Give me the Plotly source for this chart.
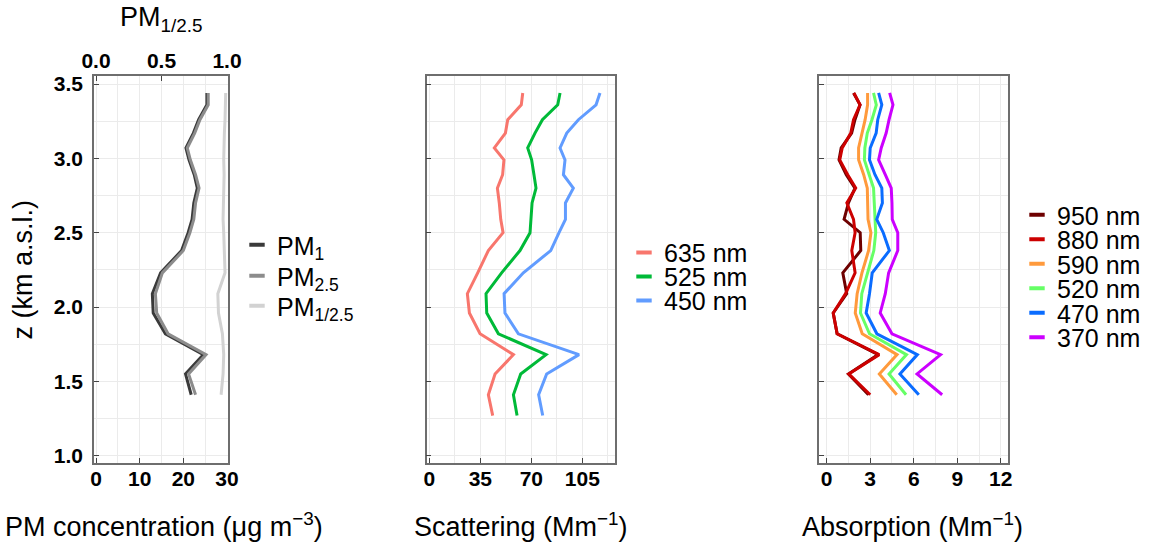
import plotly.graph_objects as go

W, H = 1151, 546

# ---------------- data ----------------
z_pm = [3.44, 3.36, 3.26, 3.17, 3.07, 2.99, 2.89, 2.80, 2.70, 2.59,
        2.50, 2.38, 2.23, 2.09, 1.96, 1.82, 1.68, 1.55, 1.41]
pm1 = [25.4, 25.4, 23.5, 22.3, 20.6, 21.3, 22.5, 23.2, 22.4, 22.0,
       21.1, 19.6, 14.8, 12.9, 13.1, 15.9, 24.6, 20.5, 21.8]
pm25 = [25.7, 25.7, 23.8, 22.6, 20.9, 21.6, 22.8, 23.6, 22.8, 22.4,
        21.5, 20.0, 15.2, 13.6, 13.9, 16.5, 25.2, 21.2, 22.8]
pm_ratio = [0.99, 0.99, 0.985, 0.98, 0.975, 0.975, 0.978, 0.975, 0.972, 0.97,
            0.975, 0.98, 0.985, 0.93, 0.935, 0.965, 0.975, 0.97, 0.955]

z_scat = [3.44, 3.36, 3.26, 3.17, 3.07, 2.99, 2.89, 2.80, 2.70, 2.59,
          2.50, 2.38, 2.23, 2.09, 1.96, 1.82, 1.68, 1.55, 1.41, 1.27]
scat_635 = [64.1, 63.1, 53.8, 52.2, 44.6, 51.2, 50.3, 46.7, 48.0, 49.0,
            50.6, 40.5, 33.2, 26.1, 27.5, 34.8, 57.7, 45.1, 40.5, 43.5]
scat_525 = [89.7, 88.1, 77.6, 72.5, 67.5, 70.2, 71.8, 73.2, 70.5, 69.8,
            69.1, 62.2, 49.6, 38.9, 39.4, 47.4, 80.1, 62.7, 57.7, 60.2]
scat_450 = [117.1, 114.4, 102.3, 94.3, 89.7, 93.1, 92.0, 98.8, 93.4, 93.4,
            89.0, 83.3, 64.5, 51.3, 51.9, 61.1, 102.7, 80.5, 75.0, 77.8]

z_abs = [3.44, 3.36, 3.26, 3.17, 3.07, 2.99, 2.89, 2.80, 2.70, 2.59,
         2.50, 2.38, 2.23, 2.09, 1.96, 1.82, 1.68, 1.55, 1.41]
abs_950 = [1.85, 2.30, 1.95, 1.72, 1.00, 0.85, 1.35, 1.95, 1.50, 1.20,
           2.31, 2.35, 1.11, 1.38, 0.45, 0.72, 3.55, 1.50, 2.88]
abs_880 = [1.88, 2.30, 1.85, 1.66, 1.07, 0.90, 1.45, 2.00, 1.39, 1.85,
           1.96, 1.73, 1.96, 1.30, 0.45, 0.72, 3.62, 1.52, 3.00]
abs_590 = [2.82, 2.82, 2.65, 2.43, 2.20, 2.20, 2.55, 2.80, 2.82, 2.85,
           3.05, 2.89, 2.43, 2.10, 1.97, 2.45, 4.85, 3.63, 4.83]
abs_520 = [3.23, 3.42, 3.12, 2.80, 2.63, 2.60, 2.93, 3.23, 3.28, 3.32,
           3.38, 3.25, 2.80, 2.42, 2.33, 2.95, 5.50, 4.30, 5.47]
abs_470 = [3.58, 3.80, 3.52, 3.41, 3.00, 2.95, 3.33, 3.80, 3.84, 3.45,
           3.90, 4.32, 3.14, 2.95, 2.72, 3.46, 6.25, 5.05, 6.35]
abs_370 = [4.34, 4.57, 4.30, 4.10, 3.76, 3.58, 4.04, 4.45, 4.50, 4.52,
           4.90, 4.90, 4.27, 4.04, 3.69, 4.50, 7.85, 6.23, 7.96]

pm_labels = ["PM<sub>1</sub>", "PM<sub>2.5</sub>", "PM<sub>1/2.5</sub>"]
scat_labels = ["635 nm", "525 nm", "450 nm"]
abs_labels = ["950 nm", "880 nm", "590 nm", "520 nm", "470 nm", "370 nm"]

# ---------------- style ----------------
FONT = "Liberation Sans, Arial, Helvetica, sans-serif"
pm_colors = ["#3a3a3a", "#8c8c8c", "#d2d2d2"]
scat_colors = ["#F8766D", "#00BA38", "#619CFF"]
abs_colors = ["#6e0000", "#cc0000", "#ff9a3c", "#66ff66", "#0a6cff", "#cc00ff"]
LW = 3


def fx(p):
    return p / W


def fy(p):
    return 1 - p / H


ydom = [fy(463), fy(76)]
yrange = [0.951, 3.554]

fig = go.Figure()

# left panel
fig.add_trace(go.Scatter(x=pm1, y=z_pm, mode="lines", line=dict(color=pm_colors[0], width=LW),
                         showlegend=False, xaxis="x", yaxis="y"))
fig.add_trace(go.Scatter(x=pm25, y=z_pm, mode="lines", line=dict(color=pm_colors[1], width=LW),
                         showlegend=False, xaxis="x", yaxis="y"))
fig.add_trace(go.Scatter(x=pm_ratio, y=z_pm, mode="lines", line=dict(color=pm_colors[2], width=LW),
                         showlegend=False, xaxis="x2", yaxis="y"))

# middle panel
for vals, c in zip([scat_635, scat_525, scat_450], scat_colors):
    fig.add_trace(go.Scatter(x=vals, y=z_scat, mode="lines", line=dict(color=c, width=LW),
                             showlegend=False, xaxis="x3", yaxis="y2"))

# right panel
for vals, c in zip([abs_950, abs_880, abs_590, abs_520, abs_470, abs_370], abs_colors):
    fig.add_trace(go.Scatter(x=vals, y=z_abs, mode="lines", line=dict(color=c, width=LW),
                             showlegend=False, xaxis="x4", yaxis="y3"))

# legend entries (one small legend per entry for ggplot-like spacing)
leg_positions = (
    [(pm_labels, pm_colors, 248, [245, 276, 306], "x", "y")]
    + [(scat_labels, scat_colors, 635, [252.7, 276.7, 300.7], "x3", "y2")]
    + [(abs_labels, abs_colors, 1028, [215, 239.5, 264, 288.5, 313, 337.5], "x4", "y3")]
)
k = 0
layout_legends = {}
for labels, colors, xpx, ypxs, xa, ya in leg_positions:
    for lab, c, ypx in zip(labels, colors, ypxs):
        k += 1
        lname = "legend" if k == 1 else f"legend{k}"
        fig.add_trace(go.Scatter(
            x=[None], y=[None], mode="markers", name=lab,
            marker=dict(symbol="line-ew", size=11, color=c, line=dict(width=4, color=c)),
            showlegend=True, legend=lname, xaxis=xa, yaxis=ya))
        layout_legends[lname] = dict(
            x=fx(xpx - 11), y=fy(ypx), xanchor="left", yanchor="middle",
            bgcolor="rgba(0,0,0,0)", borderwidth=0,
            font=dict(family=FONT, size=25, color="black"))

tickfont = dict(family=FONT, size=21, color="black", weight="bold")
common = dict(showline=True, linecolor="#6e6e6e", linewidth=1.5, mirror=True,
              ticks="inside", ticklen=5, tickwidth=1.2, tickcolor="#444",
              showgrid=True, gridcolor="#ebebeb", gridwidth=1, zeroline=False,
              tickfont=tickfont, automargin=False)

fig.update_layout(
    width=W, height=H,
    template="none",
    paper_bgcolor="white", plot_bgcolor="white",
    margin=dict(l=0, r=0, t=0, b=0, autoexpand=False),
    font=dict(family=FONT, color="black"),
    xaxis=dict(domain=[fx(94), fx(228)], range=[-0.46, 30.23], anchor="y",
               tick0=0, dtick=10, minor=dict(dtick=5, showgrid=True, gridcolor="#ebebeb"),
               ticklabelstandoff=-4, **common),
    xaxis2=dict(overlaying="x", side="top", anchor="y", range=[-0.46 / 30, 30.23 / 30],
                tick0=0, dtick=0.5, tickformat=".1f", showgrid=False, showline=False,
                ticks="inside", ticklen=5, tickwidth=1.2, tickcolor="#444",
                zeroline=False, tickfont=tickfont, automargin=False, ticklabelstandoff=3),
    yaxis=dict(domain=ydom, range=yrange, anchor="x", tick0=1.0, dtick=0.5, tickformat=".1f",
               minor=dict(dtick=0.25, showgrid=True, gridcolor="#ebebeb"),
               ticklabelstandoff=5, **common),
    xaxis3=dict(domain=[fx(426.7), fx(615)], range=[-1.8, 127.4], anchor="y2",
                tick0=0, dtick=35, minor=dict(dtick=17.5, showgrid=True, gridcolor="#ebebeb"),
                ticklabelstandoff=-4, **common),
    yaxis2=dict(domain=ydom, range=yrange, anchor="x3", tick0=1.0, dtick=0.5,
                showticklabels=False,
                minor=dict(dtick=0.25, showgrid=True, gridcolor="#ebebeb"), **common),
    xaxis4=dict(domain=[fx(819), fx(1008.3)], range=[-0.53, 12.52], anchor="y3",
                tick0=0, dtick=3, minor=dict(dtick=1.5, showgrid=True, gridcolor="#ebebeb"),
                ticklabelstandoff=-4, **common),
    yaxis3=dict(domain=ydom, range=yrange, anchor="x4", tick0=1.0, dtick=0.5,
                showticklabels=False,
                minor=dict(dtick=0.25, showgrid=True, gridcolor="#ebebeb"), **common),
    **layout_legends,
)

title_font = dict(family=FONT, size=27, color="black")
annots = [
    dict(text="PM concentration (\u03bcg m<sup>\u22123</sup>)", x=fx(164), y=fy(525)),
    dict(text="Scattering (Mm<sup>\u22121</sup>)", x=fx(520.5), y=fy(525)),
    dict(text="Absorption (Mm<sup>\u22121</sup>)", x=fx(912), y=fy(525)),
    dict(text="PM<sub>1/2.5</sub>", x=fx(161), y=fy(19)),
]
for a in annots:
    fig.add_annotation(xref="paper", yref="paper", showarrow=False,
                       xanchor="center", yanchor="middle", font=title_font, **a)
fig.add_annotation(text="z (km a.s.l.)", xref="paper", yref="paper", x=fx(22), y=fy(269.5),
                   textangle=-90, showarrow=False, xanchor="center", yanchor="middle",
                   font=title_font)

fig.write_html("out.html")
